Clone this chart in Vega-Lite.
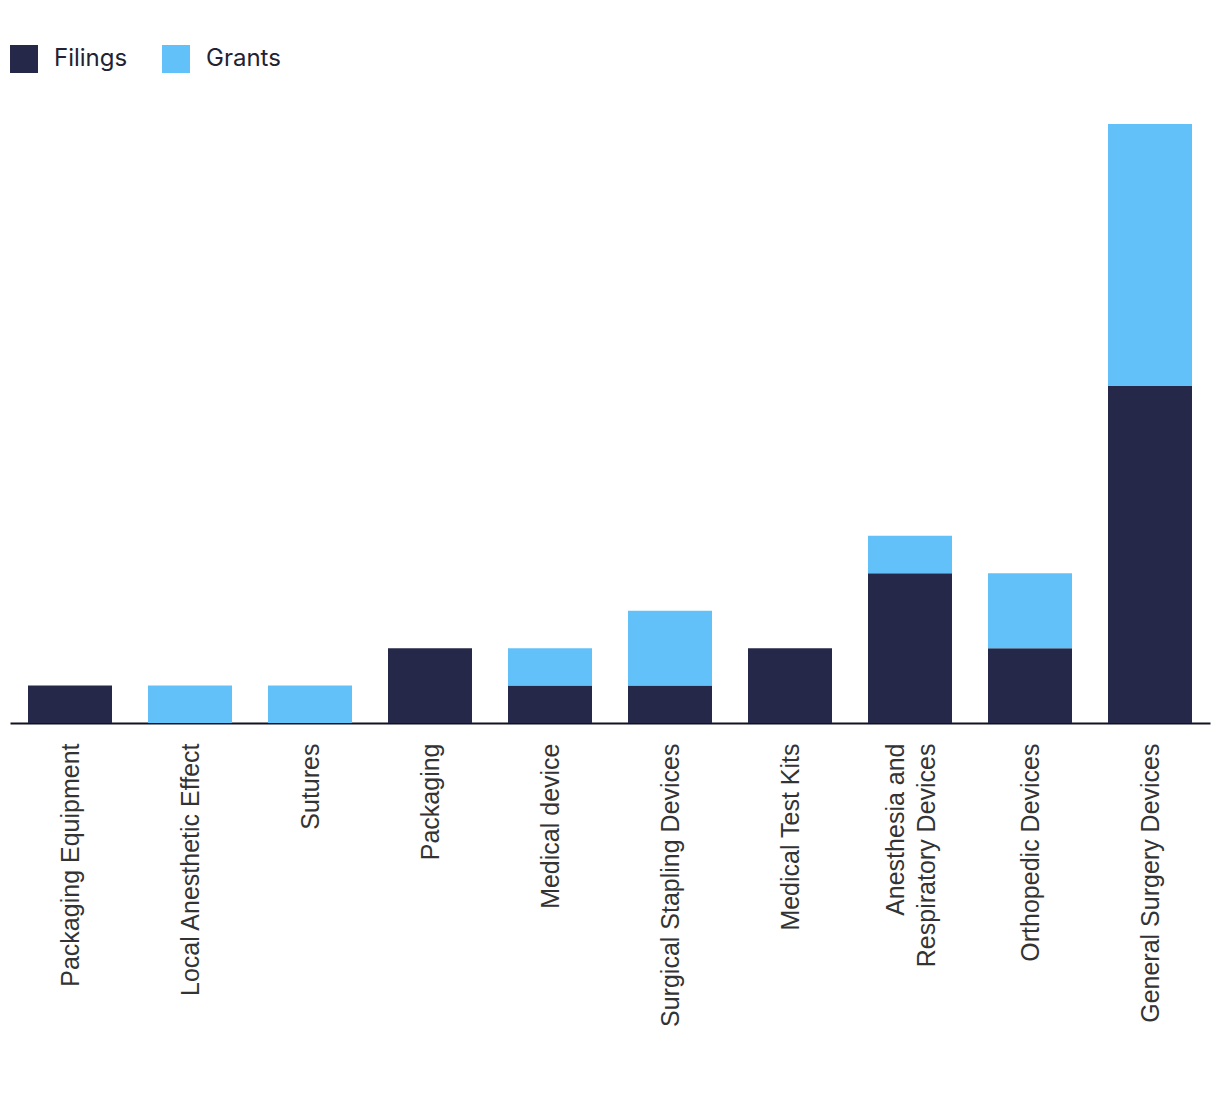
{
  "$schema": "https://vega.github.io/schema/vega-lite/v6.json",
  "width": 1200,
  "height": 599,
  "autosize": {"type": "none"},
  "padding": {"left": 10, "top": 124, "right": 10, "bottom": 371},
  "background": "white",
  "data": {
    "values": [
      {"category": "Packaging Equipment", "type": "Filings", "count": 1},
      {"category": "Local Anesthetic Effect", "type": "Grants", "count": 1},
      {"category": "Sutures", "type": "Grants", "count": 1},
      {"category": "Packaging", "type": "Filings", "count": 2},
      {"category": "Medical device", "type": "Filings", "count": 1},
      {"category": "Medical device", "type": "Grants", "count": 1},
      {"category": "Surgical Stapling Devices", "type": "Filings", "count": 1},
      {"category": "Surgical Stapling Devices", "type": "Grants", "count": 2},
      {"category": "Medical Test Kits", "type": "Filings", "count": 2},
      {"category": "Anesthesia and Respiratory Devices", "type": "Filings", "count": 4},
      {"category": "Anesthesia and Respiratory Devices", "type": "Grants", "count": 1},
      {"category": "Orthopedic Devices", "type": "Filings", "count": 2},
      {"category": "Orthopedic Devices", "type": "Grants", "count": 2},
      {"category": "General Surgery Devices", "type": "Filings", "count": 9},
      {"category": "General Surgery Devices", "type": "Grants", "count": 7}
    ]
  },
  "mark": {"type": "bar"},
  "encoding": {
    "x": {
      "field": "category",
      "type": "nominal",
      "sort": ["Packaging Equipment", "Local Anesthetic Effect", "Sutures", "Packaging", "Medical device", "Surgical Stapling Devices", "Medical Test Kits", "Anesthesia and Respiratory Devices", "Orthopedic Devices", "General Surgery Devices"],
      "scale": {"paddingInner": 0.3, "paddingOuter": 0.15},
      "axis": {
        "title": null,
        "labelAngle": -90,
        "labelAlign": "right",
        "labelBaseline": "middle",
        "labelPadding": 20,
        "labelFontSize": 25,
        "labelFont": "Liberation Sans",
        "labelColor": "#333333",
        "labelLineHeight": 31,
        "labelOffset": {"condition": {"test": "datum.value == 'Anesthesia and Respiratory Devices'", "value": -14}, "value": 1},
        "labelExpr": "datum.label == 'Anesthesia and Respiratory Devices' ? ['Anesthesia and', 'Respiratory Devices'] : datum.label",
        "ticks": false,
        "domainColor": "#111122",
        "domainWidth": 2,
        "labelLimit": 400
      }
    },
    "y": {
      "field": "count",
      "type": "quantitative",
      "aggregate": "sum",
      "stack": "zero",
      "scale": {"domain": [0, 16], "nice": false},
      "axis": null
    },
    "color": {
      "field": "type",
      "type": "nominal",
      "scale": {"domain": ["Filings", "Grants"], "range": ["#262849", "#62C1F8"]},
      "legend": {
        "title": null,
        "orient": "none",
        "direction": "horizontal",
        "legendX": 0,
        "legendY": -79,
        "symbolType": "square",
        "symbolSize": 784,
        "symbolStrokeWidth": 0,
        "symbolOpacity": 1,
        "labelFontSize": 24,
        "labelFont": "Inter",
        "labelColor": "#222233",
        "labelOffset": 16,
        "columnPadding": 34
      }
    },
    "order": {"field": "type", "sort": "ascending"}
  },
  "config": {"view": {"stroke": null}}
}
